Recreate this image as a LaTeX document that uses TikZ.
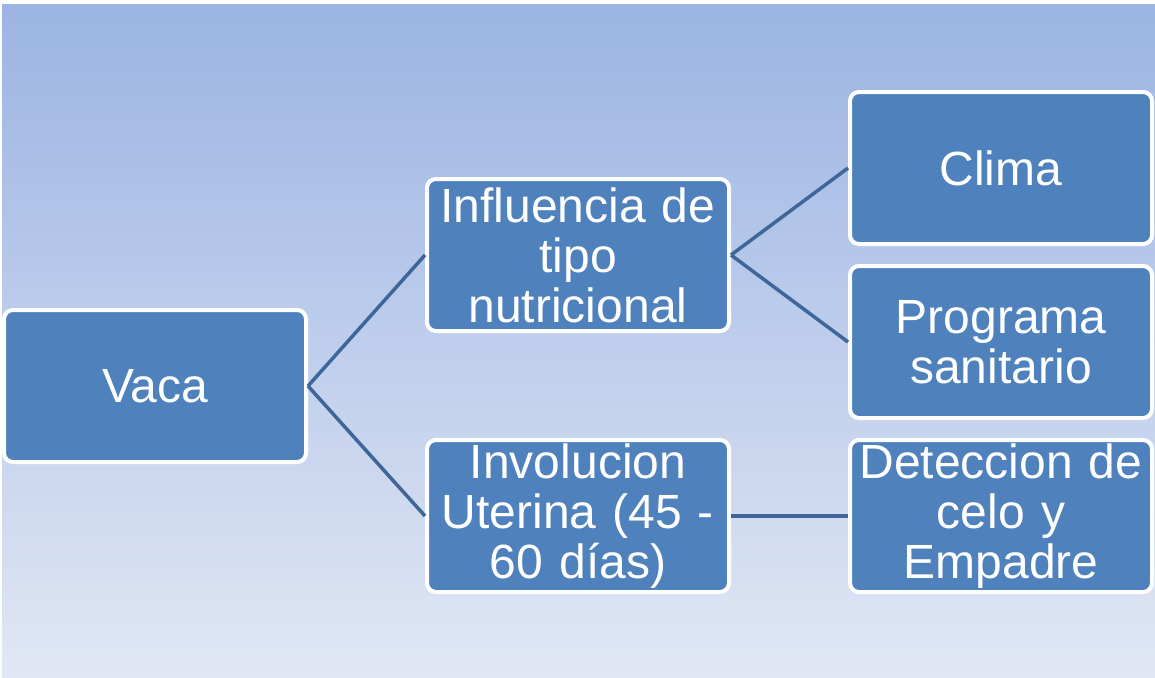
\documentclass[tikz,border=0pt]{standalone}
\usepackage{fontspec}
\setmainfont{Liberation Sans}
\usetikzlibrary{positioning}
\definecolor{boxblue}{HTML}{4F81BD}
\definecolor{linkblue}{HTML}{3F6699}
\definecolor{bgtop}{HTML}{9BB4E3}
\definecolor{bgbot}{HTML}{E1E7F4}

\begin{document}
\begin{tikzpicture}[x=1pt,y=-1pt,
	box/.style={rectangle,rounded corners=9pt,fill=boxblue,draw=white,line width=4pt,
		minimum width=302pt,minimum height=152pt,inner sep=0pt,text width=298pt,
		align=center,text=white,font=\fontsize{48}{50}\selectfont},
	link/.style={draw=linkblue,line width=3.5pt}]
	\useasboundingbox (0,0) rectangle (1155,677);
	\shade[top color=bgtop,bottom color=bgbot] (2,5) rectangle (1155,677);
	% nodos
	\node[box] (vaca) at (155,386) {Vaca};
	\node[box] (nutri) at (578,255) {Influencia de\\tipo\\nutricional};
	\node[box] (invol) at (578,516) {Involucion\\Uterina (45 -\\60 días)};
	\node[box] (clima) at (1001,168) {Clima};
	\node[box] (sanit) at (1001,342) {Programa\\sanitario};
	\node[box] (celo) at (1001,516) {Deteccion de\\celo y\\Empadre};
	% conexiones
	\draw[link] (vaca.east) -- (nutri.west);
	\draw[link] (vaca.east) -- (invol.west);
	\draw[link] (nutri.east) -- (clima.west);
	\draw[link] (nutri.east) -- (sanit.west);
	\draw[link] (invol.east) -- (celo.west);
\end{tikzpicture}
\end{document}
